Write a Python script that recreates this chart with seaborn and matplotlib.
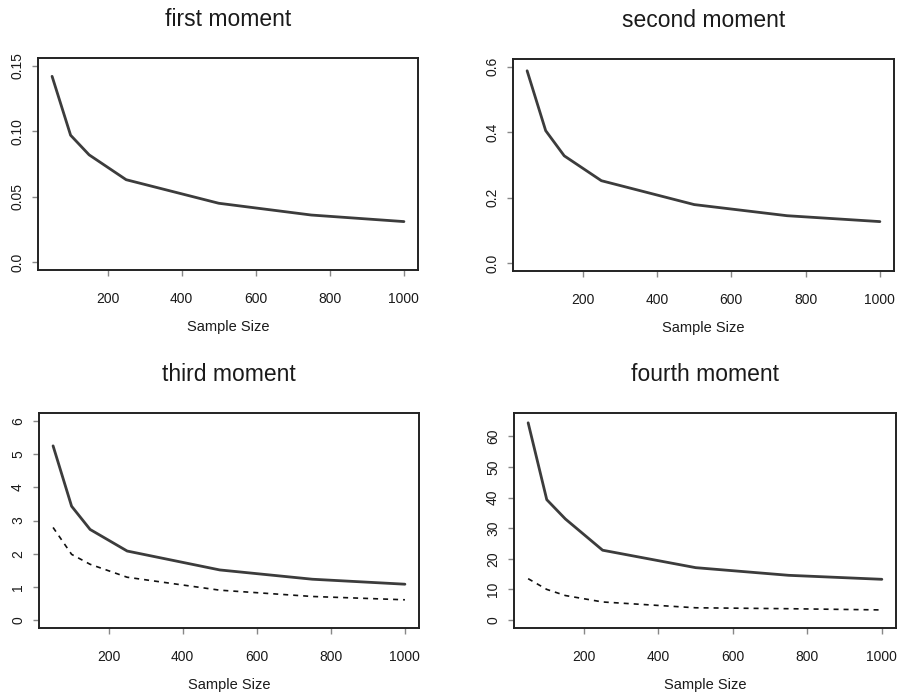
import numpy as np
import pandas as pd
import matplotlib
matplotlib.use("Agg")
import matplotlib.pyplot as plt
import seaborn as sns

sample_sizes = [50, 100, 150, 250, 500, 750, 1000]

first_solid = [0.142, 0.097, 0.082, 0.063, 0.045, 0.036, 0.031]
second_solid = [0.588, 0.405, 0.328, 0.252, 0.179, 0.145, 0.127]
third_solid = [5.25, 3.43, 2.73, 2.08, 1.51, 1.23, 1.08]
third_dashed = [2.79, 1.98, 1.68, 1.29, 0.90, 0.71, 0.61]
fourth_solid = [64.4, 39.3, 33.0, 22.8, 17.1, 14.6, 13.3]
fourth_dashed = [13.5, 10.0, 8.0, 5.9, 4.0, 3.7, 3.3]

titles = ["first moment", "second moment", "third moment", "fourth moment"]
ylims = [(0, 0.15), (0, 0.6), (0, 6), (0, 65)]
yticks = [[0.0, 0.05, 0.10, 0.15], [0.0, 0.2, 0.4, 0.6],
          [0, 1, 2, 3, 4, 5, 6], [0, 10, 20, 30, 40, 50, 60]]
yticklabels = [["0.0", "0.05", "0.10", "0.15"], ["0.0", "0.2", "0.4", "0.6"],
               ["0", "1", "2", "3", "4", "5", "6"],
               ["0", "10", "20", "30", "40", "50", "60"]]
xticks = [200, 400, 600, 800, 1000]

sns.set_theme(style="white")
plt.rcParams["font.family"] = ["Liberation Sans", "DejaVu Sans"]

fig = plt.figure(figsize=(9, 6.95), dpi=100)
W, H = 900, 695
boxes = [(38, 58, 418, 270), (513, 59, 894, 271), (39, 413, 419, 628), (514, 413, 896, 628)]

series = [
    [("solid", first_solid)],
    [("solid", second_solid)],
    [("solid", third_solid), ("dashed", third_dashed)],
    [("solid", fourth_solid), ("dashed", fourth_dashed)],
]

for i, (l, t, r, b) in enumerate(boxes):
    ax = fig.add_axes([l / W, 1 - b / H, (r - l) / W, (b - t) / H])
    rows = []
    for kind, vals in series[i]:
        for x, y in zip(sample_sizes, vals):
            rows.append({"n": x, "v": y, "kind": kind})
    df = pd.DataFrame(rows)
    for kind, color, lw, ls in [("solid", "#3c3c3c", 2.0, "-"), ("dashed", "#111111", 1.2, (0, (3, 3)))]:
        sub = df[df["kind"] == kind]
        if len(sub):
            sns.lineplot(data=sub, x="n", y="v", ax=ax, color=color, linewidth=lw,
                         linestyle=ls, legend=False)
    lo, hi = ylims[i]
    ext = (hi - lo) * 0.04
    ax.set_ylim(lo - ext, hi + ext)
    ax.set_xlim(50 - 950 * 0.04, 1000 + 950 * 0.04)
    ax.set_xticks(xticks)
    ax.set_xticklabels([str(x) for x in xticks], fontsize=10, color="#1a1a1a")
    ax.set_yticks(yticks[i])
    ax.set_yticklabels(yticklabels[i], fontsize=10, rotation=90, va="center", color="#1a1a1a")
    ax.tick_params(axis="both", direction="out", length=4, width=1, color="#888888",
                   bottom=True, left=True)
    ax.tick_params(axis="x", pad=12)
    ax.tick_params(axis="y", pad=6)
    for s in ax.spines.values():
        s.set_color("#222222")
        s.set_linewidth(1.4)
    ax.set_xlabel("Sample Size", fontsize=10.5, color="#1a1a1a", labelpad=10)
    ax.set_ylabel("")
    ax.set_title(titles[i], fontsize=16.5, color="#1a1a1a", pad=23)

fig.savefig("out.png", dpi=100, facecolor="white")
